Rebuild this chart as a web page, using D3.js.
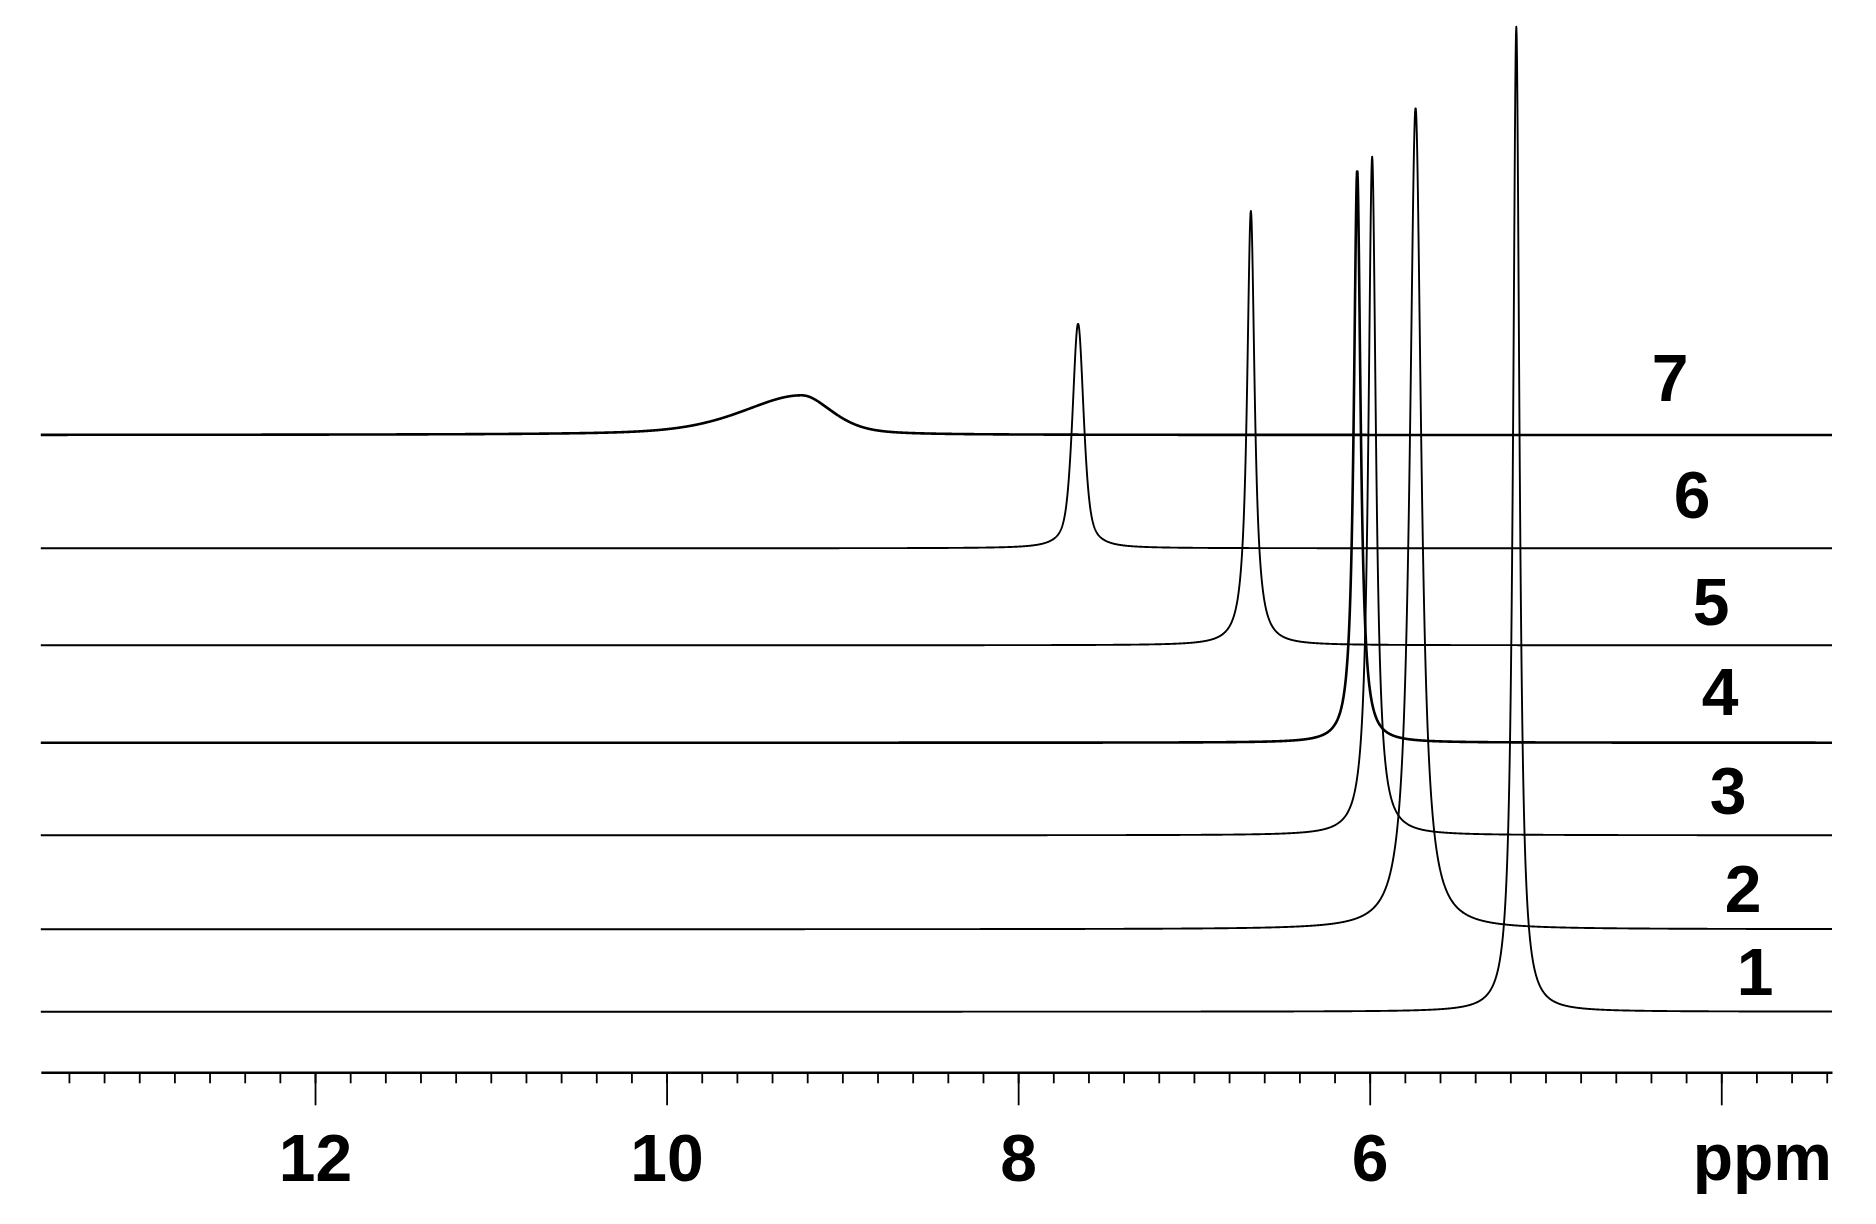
<!DOCTYPE html>
<meta charset="utf-8">
<head>
<style>
body { margin: 0; background: #fff; }
.axis text { font-family: "Liberation Sans", Arial, sans-serif; font-weight: bold; }
.trace { fill: none; stroke: #000; stroke-linejoin: round; }
.specLabel { font-family: "Liberation Sans", Arial, sans-serif; font-weight: bold; font-size: 66px; }
</style>
<script src="https://cdnjs.cloudflare.com/ajax/libs/d3/7.8.5/d3.min.js"></script>
</head>
<body>
<div id="vis-container"></div>
</body>
<script>
// spectra, bottom (1) to top (7)
var spectrumLabels = ["1", "2", "3", "4", "5", "6", "7"]
// baseline offset of each trace, intensity units
var baselineOffsets = [6.15, 14.52, 24.06, 33.46, 43.35, 53.2, 64.7]
// one signal per trace: position (ppm), height, half-widths on the high / low ppm side,
// and lorentzian fraction of the line shape (1 = pure lorentzian)
var peakPpm = [5.166, 5.739, 5.986, 6.071, 6.676, 7.659, 9.232]
var peakHeight = [100, 83.4, 68.9, 58.1, 44.1, 22.8, 4.03]
var peakWidthLeft = [0.022, 0.039, 0.026, 0.023, 0.026, 0.038, 0.40]
var peakWidthRight = [0.022, 0.039, 0.026, 0.023, 0.026, 0.038, 0.205]
var peakLorentz = [1, 1, 1, 1, 1, 0.6, 0.5]

var majorTicks = [12, 10, 8, 6, 4]
var majorTickLabels = ["12", "10", "8", "6", ""]
var axisUnit = "ppm"

// layout
var width = 1876, height = 1224
var axisY = 1072.3
var ppmRange = [13.56, 3.37]
var traceWidths = [1.9, 1.9, 1.9, 2.6, 1.9, 1.9, 2.6]
var labelX = [1755, 1743, 1728, 1720, 1711, 1692, 1670]
var labelY = [995, 912, 814, 715, 625, 518, 401]

var x = d3.scaleLinear().domain(ppmRange).range([40.8, 1832])
var y = d3.scaleLinear().domain([0, 100]).range([axisY, axisY - 985])

var svg = d3.select('#vis-container').append('svg')
	.attr('width', width)
	.attr('height', height)

svg.append('rect').attr('width', width).attr('height', height).attr('fill', '#fff')

var grid = d3.range(ppmRange[0], ppmRange[1], -0.002)
grid.push(ppmRange[1])

var traceValues = function(i){
	var pts = []
	var eta = peakLorentz[i]
	for (var k = 0; k < grid.length; k++){
		var p = grid[k]
		var w = p > peakPpm[i] ? peakWidthLeft[i] : peakWidthRight[i]
		var t = (p - peakPpm[i]) / w
		var shape = eta / (1 + t * t) + (1 - eta) * Math.exp(-Math.LN2 * t * t)
		pts.push([p, baselineOffsets[i] + peakHeight[i] * shape])
	}
	return pts
}

var line = d3.line()
	.x(function(d){ return x(d[0]) })
	.y(function(d){ return y(d[1]) })

var traces = svg.append('g')
for (var i = 0; i < spectrumLabels.length; i++){
	traces.append('path')
		.attr('class', 'trace')
		.attr('stroke-width', traceWidths[i])
		.attr('d', line(traceValues(i)))
}

svg.selectAll('.specLabel')
	.data(spectrumLabels)
  .enter().append('text')
	.attr('class', 'specLabel')
	.attr('text-anchor', 'middle')
	.attr('x', function(d, i){ return labelX[i] })
	.attr('y', function(d, i){ return labelY[i] })
	.text(function(d){ return d })

// minor ticks every 0.2 ppm
var minorTicks = d3.range(34, 135, 2).map(function(v){ return v / 10 })
var minorAxis = svg.append('g')
	.attr('class', 'axis')
	.attr('transform', 'translate(0,' + axisY + ')')
	.call(d3.axisBottom(x).tickValues(minorTicks).tickSize(11).tickSizeOuter(0).tickFormat(''))
minorAxis.selectAll('line').attr('stroke', '#000').attr('stroke-width', 1.8)
minorAxis.select('.domain').attr('stroke', '#000').attr('stroke-width', 2.4)

var majorAxis = svg.append('g')
	.attr('class', 'axis')
	.attr('transform', 'translate(0,' + axisY + ')')
	.call(d3.axisBottom(x).tickValues(majorTicks).tickSize(33).tickSizeOuter(0)
		.tickFormat(function(d, i){ return majorTickLabels[i] }))
majorAxis.select('.domain').remove()
majorAxis.selectAll('line').attr('stroke', '#000').attr('stroke-width', 1.8)
majorAxis.selectAll('text')
	.attr('dy', null)
	.attr('y', 108.5)
	.attr('fill', '#000')
	.style('font-size', '66px')

svg.append('text')
	.attr('class', 'specLabel')
	.attr('text-anchor', 'end')
	.attr('x', 1832)
	.attr('y', axisY + 107.5)
	.text(axisUnit)
</script>
</html>
